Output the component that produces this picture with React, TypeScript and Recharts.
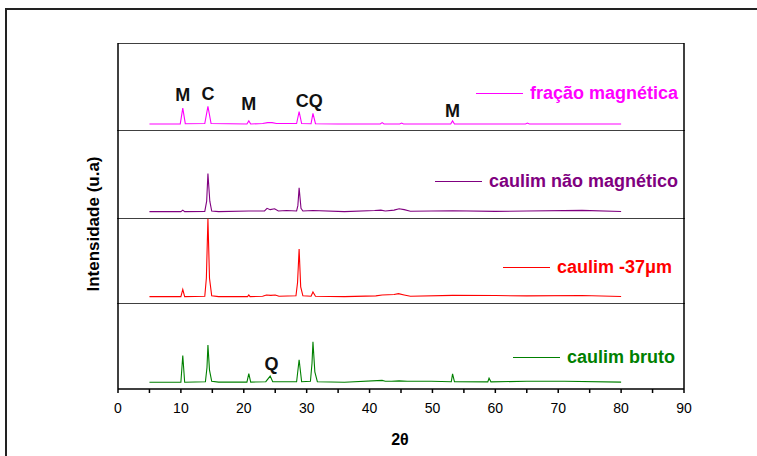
import React from 'react';
import { LineChart, Line, XAxis, YAxis, ReferenceDot } from 'recharts';

const FONT = '"Liberation Sans", Arial, sans-serif';

// 2theta values / relative intensity (0-100 of each panel)
const fracaoMagnetica = [
  { t: 5, i: 8 }, { t: 9.9, i: 8 }, { t: 10.3, i: 26 }, { t: 10.7, i: 8.3 },
  { t: 13.8, i: 8.5 }, { t: 14.3, i: 28 }, { t: 14.8, i: 8.5 }, { t: 20.5, i: 8 },
  { t: 20.8, i: 11.5 }, { t: 21.1, i: 8 }, { t: 23, i: 8.5 }, { t: 23.8, i: 9.5 },
  { t: 24.5, i: 9.5 }, { t: 25.2, i: 8.5 }, { t: 28.4, i: 8.5 }, { t: 28.8, i: 22 },
  { t: 29.2, i: 8.5 }, { t: 30.7, i: 8.3 }, { t: 31.0, i: 20 }, { t: 31.4, i: 8.3 },
  { t: 35, i: 8 }, { t: 41.7, i: 8 }, { t: 42, i: 9.5 }, { t: 42.3, i: 8 },
  { t: 44.8, i: 8 }, { t: 45.1, i: 9 }, { t: 45.4, i: 8 }, { t: 52.9, i: 8 },
  { t: 53.2, i: 11.5 }, { t: 53.5, i: 8 }, { t: 64.8, i: 8 }, { t: 65.1, i: 9 },
  { t: 65.4, i: 8 }, { t: 80, i: 8 },
];

const caulimNaoMagnetico = [
  { t: 5, i: 8.3 }, { t: 10, i: 8.3 }, { t: 10.3, i: 10 }, { t: 10.6, i: 8.3 },
  { t: 13.8, i: 8.5 }, { t: 14.1, i: 20 }, { t: 14.3, i: 51 }, { t: 14.6, i: 20 },
  { t: 14.9, i: 9 }, { t: 16, i: 8.3 }, { t: 20.8, i: 9 }, { t: 23.3, i: 9 },
  { t: 23.7, i: 12 }, { t: 24.2, i: 10.5 }, { t: 24.9, i: 11.5 }, { t: 25.5, i: 9 },
  { t: 26.8, i: 9.5 }, { t: 28.4, i: 9 }, { t: 28.6, i: 15 }, { t: 28.8, i: 35 },
  { t: 29.1, i: 12 }, { t: 29.4, i: 9 }, { t: 31, i: 9.5 }, { t: 36, i: 8.3 },
  { t: 40.8, i: 9.5 }, { t: 41.8, i: 10 }, { t: 42.5, i: 9 }, { t: 43.9, i: 10 },
  { t: 44.7, i: 11.5 }, { t: 45.5, i: 10.5 }, { t: 46.5, i: 8.7 }, { t: 53.2, i: 9.3 },
  { t: 60, i: 8.6 }, { t: 65, i: 9 }, { t: 73.8, i: 9.7 }, { t: 80, i: 8.4 },
];

const caulim37 = [
  { t: 5, i: 8.6 }, { t: 10, i: 8.6 }, { t: 10.3, i: 17 }, { t: 10.6, i: 8.6 },
  { t: 13.8, i: 9 }, { t: 14.05, i: 30 }, { t: 14.3, i: 99 }, { t: 14.55, i: 30 },
  { t: 14.9, i: 9.5 }, { t: 16, i: 8.6 }, { t: 20.6, i: 8.6 }, { t: 20.8, i: 10.5 },
  { t: 21, i: 8.6 }, { t: 23, i: 9 }, { t: 23.6, i: 10.5 }, { t: 24.3, i: 10 },
  { t: 25, i: 10.5 }, { t: 25.6, i: 9 }, { t: 28.3, i: 9.5 }, { t: 28.55, i: 25 },
  { t: 28.8, i: 64 }, { t: 29.05, i: 20 }, { t: 29.4, i: 9.5 }, { t: 30.7, i: 9 },
  { t: 31, i: 14 }, { t: 31.4, i: 9 }, { t: 36, i: 8.6 }, { t: 41, i: 9.5 },
  { t: 42, i: 10.5 }, { t: 43.9, i: 11 }, { t: 44.6, i: 12 }, { t: 45.5, i: 10.5 },
  { t: 46.5, i: 9 }, { t: 53.2, i: 10 }, { t: 60, i: 9.8 }, { t: 65, i: 9.5 },
  { t: 73.8, i: 9.8 }, { t: 80, i: 8.8 },
];

const caulimBruto = [
  { t: 5, i: 7.8 }, { t: 10, i: 7.8 }, { t: 10.3, i: 39 }, { t: 10.6, i: 7.8 },
  { t: 13.9, i: 8.5 }, { t: 14.15, i: 25 }, { t: 14.3, i: 51 }, { t: 14.55, i: 22 },
  { t: 14.9, i: 9 }, { t: 16, i: 8 }, { t: 20.5, i: 8 }, { t: 20.8, i: 18 },
  { t: 21.1, i: 8 }, { t: 23.5, i: 8.5 }, { t: 24.2, i: 15 }, { t: 24.6, i: 8.5 },
  { t: 28.4, i: 8.5 }, { t: 28.8, i: 34 }, { t: 29.2, i: 8.5 }, { t: 30.6, i: 9 },
  { t: 30.85, i: 30 }, { t: 31.0, i: 55 }, { t: 31.3, i: 20 }, { t: 31.7, i: 8.5 },
  { t: 36, i: 7.8 }, { t: 42, i: 10 }, { t: 42.5, i: 9 }, { t: 43.5, i: 9 },
  { t: 44.7, i: 9.5 }, { t: 46, i: 9 }, { t: 49.8, i: 9 }, { t: 53, i: 8.5 },
  { t: 53.2, i: 17.5 }, { t: 53.5, i: 8.5 }, { t: 58.8, i: 8.3 }, { t: 59, i: 12.5 },
  { t: 59.3, i: 8.3 }, { t: 65, i: 9 }, { t: 71, i: 9 }, { t: 80, i: 8 },
];

const xTicks = [0, 5, 10, 15, 20, 25, 30, 35, 40, 45, 50, 55, 60, 65, 70, 75, 80, 85, 90];
// dense minor ticks on the intensity axes
const yTicks = Array.from({ length: 41 }, (_, k) => k * 2.5);

const peaksMagnetica = [
  { t: 10.3, i: 41, label: 'M' },
  { t: 14.3, i: 42, label: 'C' },
  { t: 20.8, i: 31, label: 'M' },
  { t: 30.4, i: 35, label: 'CQ' },
  { t: 53.2, i: 23, label: 'M' },
];
const peaksBruto = [{ t: 24.4, i: 30, label: 'Q' }];

const panels = [
  { name: 'fração magnética', data: fracaoMagnetica, color: '#ff00ff', top: 44, height: 86, legend: [476, 40], peaks: peaksMagnetica },
  { name: 'caulim não magnético', data: caulimNaoMagnetico, color: '#800080', top: 130, height: 88, legend: [435, 42], peaks: [] },
  { name: 'caulim -37μm', data: caulim37, color: '#ff0000', top: 218, height: 85, legend: [503, 40], peaks: [] },
  { name: 'caulim bruto', data: caulimBruto, color: '#008000', top: 303, height: 86, legend: [513, 45], peaks: peaksBruto },
];

const axisStroke = '#000';

const Panel = ({ p, first, last }: { p: typeof panels[number]; first: boolean; last: boolean }) => {
  const extra = last ? 60 : 1;
  const topH = first ? 1 : 0;
  return (
    <div style={{ position: 'absolute', left: 0, top: p.top - topH }}>
      <LineChart
        width={757}
        height={p.height + extra + topH}
        margin={{ top: 0, right: 73, bottom: 0, left: 118 }}
      >
        {first && (
          <XAxis
            xAxisId="top"
            orientation="top"
            type="number"
            dataKey="t"
            domain={[0, 90]}
            ticks={xTicks}
            height={1}
            mirror
            tick={false}
            tickSize={3}
            stroke={axisStroke}
            strokeWidth={1.5}
          />
        )}
        <XAxis
          xAxisId="bottom"
          type="number"
          dataKey="t"
          domain={[0, 90]}
          ticks={xTicks}
          height={extra}
          mirror={!last}
          tickSize={last ? 4 : 3}
          tickMargin={10}
          tickFormatter={(v: number) => (last && v % 10 === 0 ? String(v) : '')}
          tick={last ? { fill: '#000', fontSize: 14, fontFamily: FONT } : false}
          stroke={axisStroke}
          strokeWidth={1.5}
          allowDataOverflow
        />
        <YAxis
          yAxisId="left"
          type="number"
          domain={[0, 100]}
          ticks={yTicks}
          width={1}
          mirror
          tick={false}
          tickSize={2}
          stroke={axisStroke}
          strokeWidth={1.5}
          allowDataOverflow
        />
        <YAxis
          yAxisId="right"
          orientation="right"
          type="number"
          domain={[0, 100]}
          ticks={yTicks}
          width={1}
          mirror
          tick={false}
          tickSize={2}
          stroke={axisStroke}
          strokeWidth={1.5}
        />
        <Line
          data={p.data}
          dataKey="i"
          xAxisId="bottom"
          yAxisId="left"
          type="linear"
          stroke={p.color}
          strokeWidth={1.1}
          dot={false}
          isAnimationActive={false}
        />
        {p.peaks.map((pk, k) => (
          <ReferenceDot
            key={k}
            x={pk.t}
            y={pk.i}
            r={0}
            xAxisId="bottom"
            yAxisId="left"
            ifOverflow="visible"
            label={{
              value: pk.label,
              position: 'center',
              fill: '#111',
              fontSize: 18,
              fontWeight: 'bold',
              fontFamily: FONT,
            }}
          />
        ))}
      </LineChart>
      <div
        style={{
          position: 'absolute',
          left: p.legend[0],
          top: p.legend[1] + topH,
          display: 'flex',
          alignItems: 'center',
          height: 18,
          fontFamily: FONT,
          fontWeight: 'bold',
          fontSize: 18,
          color: p.color,
          whiteSpace: 'nowrap',
        }}
      >
        <span style={{ width: 47, borderTop: `1px solid ${p.color}`, marginRight: 7 }} />
        <span>{p.name}</span>
      </div>
    </div>
  );
};

export default function App() {
  return (
    <div style={{ position: 'absolute', left: 0, top: 0, width: 757, height: 456, overflow: 'hidden', background: '#fff' }}>
      <svg width={757} height={456} style={{ position: 'absolute', left: 0, top: 0 }}>
        <rect x={6} y={9} width={800} height={500} fill="none" stroke="#222" strokeWidth={2} />
        <text
          x={93}
          y={224}
          transform="rotate(-90 93 224)"
          textAnchor="middle"
          dominantBaseline="central"
          fontFamily={FONT}
          fontWeight="bold"
          fontSize={17}
        >
          Intensidade (u.a)
        </text>
        <text x={400} y={439} textAnchor="middle" dominantBaseline="central" fontFamily={FONT} fontWeight="bold" fontSize={16}>
          2θ
        </text>
      </svg>
      {panels.map((p, k) => (
        <Panel key={p.name} p={p} first={k === 0} last={k === panels.length - 1} />
      ))}
    </div>
  );
}
